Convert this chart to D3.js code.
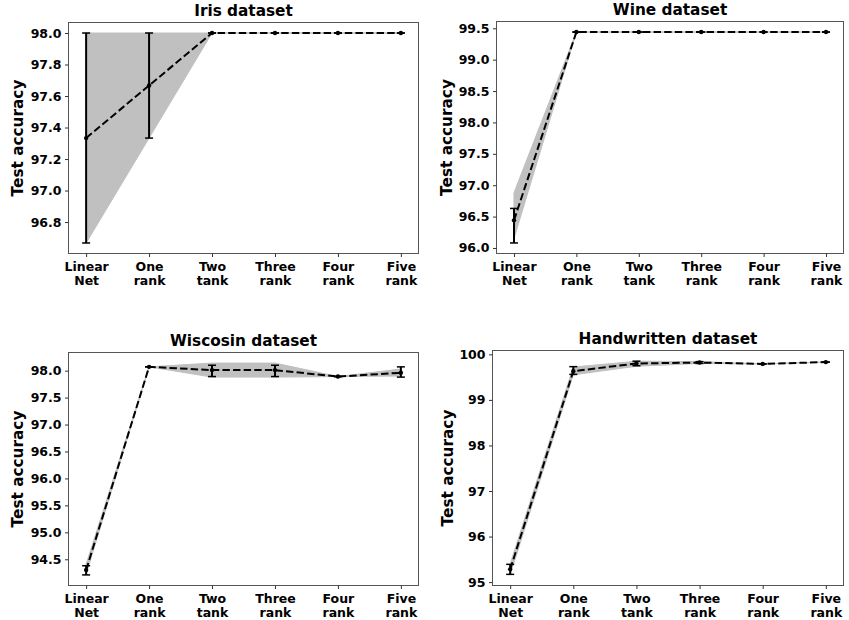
<!DOCTYPE html>
<html lang="en">
<head>
  <meta charset="UTF-8">
  <title>Test accuracy by rank</title>
  <script src="https://d3js.org/d3.v7.min.js"></script>
  <style>
    body {
      margin: 0;
      padding: 0;
      background: #fff;
    }
    svg text {
      font-family: "DejaVu Sans", sans-serif;
      font-weight: bold;
      fill: #000;
    }
  </style>
</head>
<body>
<script>
const categories = [["Linear", "Net"], ["One", "rank"], ["Two", "tank"], ["Three", "rank"], ["Four", "rank"], ["Five", "rank"]];

const irisMean     = [97.333, 97.667, 98.0, 98.0, 98.0, 98.0];
const irisErrLow   = [96.667, 97.333, 98.0, 98.0, 98.0, 98.0];
const irisErrHigh  = [98.0, 98.0, 98.0, 98.0, 98.0, 98.0];
const irisBandLow  = [96.667, 97.333, 98.0, 98.0, 98.0, 98.0];
const irisBandHigh = [98.0, 98.0, 98.0, 98.0, 98.0, 98.0];
const irisTicks    = [96.8, 97.0, 97.2, 97.4, 97.6, 97.8, 98.0];

const wineMean     = [96.44, 99.44, 99.44, 99.44, 99.44, 99.44];
const wineErrLow   = [96.08, 99.44, 99.44, 99.44, 99.44, 99.44];
const wineErrHigh  = [96.63, 99.44, 99.44, 99.44, 99.44, 99.44];
const wineBandLow  = [96.15, 99.44, 99.44, 99.44, 99.44, 99.44];
const wineBandHigh = [96.88, 99.44, 99.44, 99.44, 99.44, 99.44];
const wineTicks    = [96.0, 96.5, 97.0, 97.5, 98.0, 98.5, 99.0, 99.5];

const wiscMean     = [94.30, 98.07, 98.01, 98.01, 97.89, 97.96];
const wiscErrLow   = [94.21, 98.07, 97.89, 97.89, 97.89, 97.88];
const wiscErrHigh  = [94.38, 98.07, 98.10, 98.10, 97.89, 98.07];
const wiscBandLow  = [94.22, 98.07, 97.88, 97.88, 97.89, 97.90];
const wiscBandHigh = [94.41, 98.07, 98.14, 98.14, 97.89, 98.03];
const wiscTicks    = [94.5, 95.0, 95.5, 96.0, 96.5, 97.0, 97.5, 98.0];

const handMean     = [95.28, 99.63, 99.80, 99.82, 99.79, 99.83];
const handErrLow   = [95.17, 99.56, 99.75, 99.80, 99.79, 99.83];
const handErrHigh  = [95.39, 99.73, 99.85, 99.84, 99.79, 99.83];
const handBandLow  = [95.16, 99.55, 99.74, 99.80, 99.79, 99.83];
const handBandHigh = [95.40, 99.72, 99.85, 99.84, 99.79, 99.83];
const handTicks    = [95, 96, 97, 98, 99, 100];

const panels = [
  {title: "Iris dataset", mean: irisMean, errLow: irisErrLow, errHigh: irisErrHigh,
   bandLow: irisBandLow, bandHigh: irisBandHigh, ticks: irisTicks, fmt: d3.format(".1f"),
   box: {l: 68.5, r: 418.5, t: 22.5, b: 253.5}, labelX: 18},
  {title: "Wine dataset", mean: wineMean, errLow: wineErrLow, errHigh: wineErrHigh,
   bandLow: wineBandLow, bandHigh: wineBandHigh, ticks: wineTicks, fmt: d3.format(".1f"),
   box: {l: 496.5, r: 843.5, t: 21.5, b: 253.5}, labelX: 447},
  {title: "Wiscosin dataset", mean: wiscMean, errLow: wiscErrLow, errHigh: wiscErrHigh,
   bandLow: wiscBandLow, bandHigh: wiscBandHigh, ticks: wiscTicks, fmt: d3.format(".1f"),
   box: {l: 68.5, r: 418.5, t: 352.5, b: 585.5}, labelX: 18},
  {title: "Handwritten dataset", mean: handMean, errLow: handErrLow, errHigh: handErrHigh,
   bandLow: handBandLow, bandHigh: handBandHigh, ticks: handTicks, fmt: d3.format("d"),
   box: {l: 492.5, r: 843.5, t: 350.5, b: 585.5}, labelX: 448}
];

const svg = d3.select("body").append("svg")
  .attr("width", 849)
  .attr("height", 620);

panels.forEach(drawPanel);

function drawPanel(p) {
  const {l, r, t, b} = p.box;
  const idx = d3.range(categories.length);
  const x = d3.scalePoint().domain(idx).range([l, r]).padding(0.28);
  const [mn, mx] = d3.extent([...p.errLow, ...p.errHigh, ...p.bandLow, ...p.bandHigh]);
  const pad = (mx - mn) * 0.05;
  const y = d3.scaleLinear().domain([mn - pad, mx + pad]).range([b, t]);

  const g = svg.append("g");

  // shaded band
  g.append("path")
    .datum(idx)
    .attr("d", d3.area().x(i => x(i)).y0(i => y(p.bandLow[i])).y1(i => y(p.bandHigh[i])))
    .attr("fill", "#c0c0c0")
    .attr("stroke", "#c0c0c0")
    .attr("stroke-width", 1);

  // error bars
  const eb = g.append("g").attr("stroke", "#000");
  eb.selectAll("line.bar")
    .data(idx)
    .join("line")
    .attr("class", "bar")
    .attr("x1", i => x(i)).attr("x2", i => x(i))
    .attr("y1", i => y(p.errLow[i])).attr("y2", i => y(p.errHigh[i]))
    .attr("stroke-width", 2);
  [p.errLow, p.errHigh].forEach(arr => {
    eb.selectAll(null)
      .data(idx)
      .join("line")
      .attr("x1", i => x(i) - 4).attr("x2", i => x(i) + 4)
      .attr("y1", i => y(arr[i])).attr("y2", i => y(arr[i]))
      .attr("stroke-width", 1.5);
  });

  // mean line
  g.append("path")
    .datum(idx)
    .attr("d", d3.line().x(i => x(i)).y(i => y(p.mean[i])))
    .attr("fill", "none")
    .attr("stroke", "#000")
    .attr("stroke-width", 2)
    .attr("stroke-dasharray", "7.4,3.2");
  g.selectAll("circle")
    .data(idx)
    .join("circle")
    .attr("cx", i => x(i))
    .attr("cy", i => y(p.mean[i]))
    .attr("r", 2.2)
    .attr("fill", "#000");

  // frame
  g.append("rect")
    .attr("x", l).attr("y", t)
    .attr("width", r - l).attr("height", b - t)
    .attr("fill", "none")
    .attr("stroke", "#555")
    .attr("stroke-width", 1);

  // y axis
  const ya = g.append("g")
    .attr("transform", `translate(${l},0)`)
    .call(d3.axisLeft(y).tickValues(p.ticks).tickFormat(p.fmt).tickSize(3.5).tickPadding(3.5));
  ya.select(".domain").remove();
  ya.selectAll(".tick line").attr("stroke", "#333");
  ya.selectAll(".tick text").style("font-size", "12.5px").attr("fill", "#000");

  // x axis
  const xa = g.append("g")
    .attr("transform", `translate(0,${b})`)
    .call(d3.axisBottom(x).tickSize(3.5).tickFormat(""));
  xa.select(".domain").remove();
  xa.selectAll(".tick line").attr("stroke", "#333");
  xa.selectAll(".tick text").remove();
  xa.selectAll(".tick")
    .append("text")
    .attr("text-anchor", "middle")
    .style("font-size", "12.5px")
    .selectAll("tspan")
    .data(i => categories[i])
    .join("tspan")
    .attr("x", 0)
    .attr("y", (d, k) => 17.5 + k * 13.5)
    .text(d => d);

  // title
  g.append("text")
    .attr("x", (l + r) / 2)
    .attr("y", t - 7)
    .attr("text-anchor", "middle")
    .style("font-size", "15.3px")
    .text(p.title);

  // y label
  g.append("text")
    .attr("transform", `translate(${p.labelX + 5},${(t + b) / 2}) rotate(-90)`)
    .attr("text-anchor", "middle")
    .style("font-size", "15.3px")
    .text("Test accuracy");
}
</script>
</body>
</html>
